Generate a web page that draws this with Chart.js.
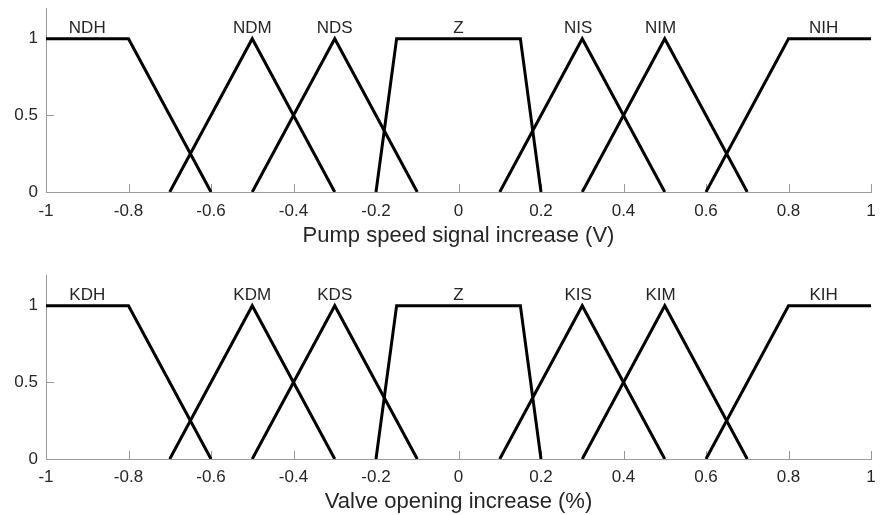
<!DOCTYPE html>
<html>
<head>
<meta charset="utf-8">
<script src="https://cdn.jsdelivr.net/npm/chart.js@4"></script>
<style>
  body { margin: 0; background: #fff; }
  canvas { display: block; }
</style>
</head>
<body>
<canvas id="pumpChart" width="881" height="258"></canvas>
<canvas id="valveChart" width="881" height="257"></canvas>
<script>
/* fuzzy membership functions, pump speed & valve opening */

const xTicks = [-1, -0.8, -0.6, -0.4, -0.2, 0, 0.2, 0.4, 0.6, 0.8, 1];
const yTicks = [0, 0.5, 1];

const pumpNames = ['NDH', 'NDM', 'NDS', 'Z', 'NIS', 'NIM', 'NIH'];
const valveNames = ['KDH', 'KDM', 'KDS', 'Z', 'KIS', 'KIM', 'KIH'];

// corner points of each set (same shapes in both plots)
const mfX = [
  [-1, -0.8, -0.6],
  [-0.7, -0.5, -0.3],
  [-0.5, -0.3, -0.1],
  [-0.2, -0.15, 0.15, 0.2],
  [0.1, 0.3, 0.5],
  [0.3, 0.5, 0.7],
  [0.6, 0.8, 1]
];
const mfY = [
  [1, 1, 0],
  [0, 1, 0],
  [0, 1, 0],
  [0, 1, 1, 0],
  [0, 1, 0],
  [0, 1, 0],
  [0, 1, 1]
];

// where the set names sit
const nameX = [-0.9, -0.5, -0.3, 0, 0.29, 0.49, 0.885];
const nameY = 1.07;

const axisColor = '#9a9a9a';
const textColor = '#262626';
const fontFamily = '"Liberation Sans", Arial, sans-serif';

const insideTicks = {
  id: 'insideTicks',
  beforeDatasetsDraw(chart) {
    const { ctx, chartArea, scales: { x, y } } = chart;
    ctx.save();
    ctx.strokeStyle = axisColor;
    ctx.lineWidth = 1;
    ctx.beginPath();
    xTicks.forEach((v) => {
      const px = Math.round(x.getPixelForValue(v)) + 0.5;
      ctx.moveTo(px, chartArea.bottom);
      ctx.lineTo(px, chartArea.bottom - 8);
    });
    yTicks.forEach((v) => {
      const py = Math.round(y.getPixelForValue(v)) + 0.5;
      ctx.moveTo(chartArea.left, py);
      ctx.lineTo(chartArea.left + 8, py);
    });
    ctx.stroke();
    ctx.restore();
  }
};

const setNames = {
  id: 'setNames',
  afterDatasetsDraw(chart) {
    const { ctx, scales: { x, y } } = chart;
    ctx.save();
    ctx.font = '17px ' + fontFamily;
    ctx.fillStyle = textColor;
    ctx.textAlign = 'center';
    ctx.textBaseline = 'middle';
    chart.data.datasets.forEach((ds, i) => {
      ctx.fillText(ds.label, x.getPixelForValue(nameX[i]), y.getPixelForValue(nameY));
    });
    ctx.restore();
  }
};

function drawSets(id, names, title, pad) {
  const datasets = names.map((name, i) => ({
    label: name,
    data: mfX[i].map((v, j) => ({ x: v, y: mfY[i][j] })),
    borderColor: '#000',
    backgroundColor: '#000',
    borderWidth: 3,
    pointRadius: 0,
    showLine: true,
    fill: false,
    tension: 0
  }));

  new Chart(document.getElementById(id), {
    type: 'scatter',
    data: { datasets: datasets },
    options: {
      responsive: false,
      animation: false,
      layout: { padding: { top: pad.top, right: 10, left: 0, bottom: 0 } },
      plugins: { legend: { display: false }, tooltip: { enabled: false } },
      scales: {
        x: {
          type: 'linear',
          min: -1,
          max: 1,
          afterBuildTicks: (s) => { s.ticks = xTicks.map((v) => ({ value: v })); },
          afterFit: (s) => {
            s.height = pad.axisHeight;
            s.paddingLeft = 0;
            s.paddingRight = 0;
          },
          grid: { drawOnChartArea: false, drawTicks: false },
          border: { color: axisColor, width: 1 },
          ticks: {
            autoSkip: false,
            maxRotation: 0,
            padding: pad.tickPad,
            color: textColor,
            font: { family: fontFamily, size: 17 },
            callback: (v) => String(v)
          },
          title: {
            display: true,
            text: title,
            color: textColor,
            font: { family: fontFamily, size: 22 },
            padding: { top: 0, bottom: pad.titlePad }
          }
        },
        y: {
          min: 0,
          max: 1.2,
          afterBuildTicks: (s) => { s.ticks = yTicks.map((v) => ({ value: v })); },
          afterFit: (s) => {
            s.width = 46;
            s.paddingTop = 0;
            s.paddingBottom = 0;
          },
          grid: { drawOnChartArea: false, drawTicks: false },
          border: { color: axisColor, width: 1 },
          ticks: {
            padding: 8,
            color: textColor,
            font: { family: fontFamily, size: 17 },
            callback: (v) => String(v)
          }
        }
      }
    },
    plugins: [insideTicks, setNames]
  });
}

drawSets('pumpChart', pumpNames, 'Pump speed signal increase (V)',
  { top: 8, axisHeight: 66, tickPad: 9, titlePad: 9 });
drawSets('valveChart', valveNames, 'Valve opening increase (%)',
  { top: 17, axisHeight: 56, tickPad: 8, titlePad: 0 });
</script>
</body>
</html>
